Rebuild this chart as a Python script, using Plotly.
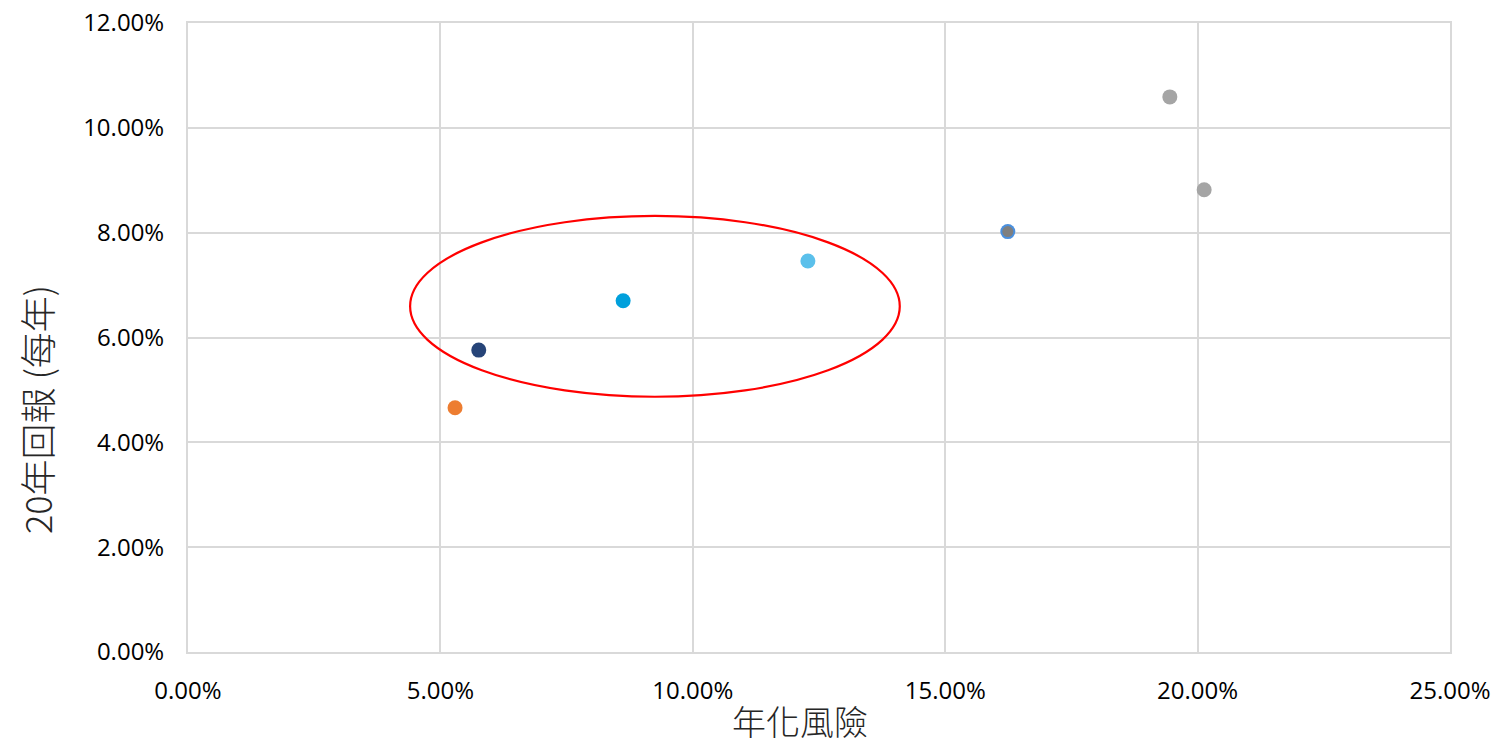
import plotly.graph_objects as go

# Annualised risk (x) and 20-year annual return (y), one point per portfolio
risk = [0.0529, 0.0576, 0.0862, 0.1228, 0.1624, 0.1945, 0.2013]
ret = [0.0466, 0.0576, 0.0670, 0.0746, 0.0802, 0.1059, 0.0882]
colors = ["#ED7D31", "#264478", "#00A0DC", "#5BC0EB", "#4A8FDD", "#A5A5A5", "#A5A5A5"]

# Overlaid inner marker on the fifth point
inner_risk = [0.1624]
inner_ret = [0.0802]
inner_color = ["#7F7F7F"]

x_ticks = [0, 0.05, 0.10, 0.15, 0.20, 0.25]
y_ticks = [0, 0.02, 0.04, 0.06, 0.08, 0.10, 0.12]

x_title = "年化風險"
y_title = "20年回報 (每年)"

# Highlight ellipse bounds (data units)
ellipse_x = [0.0440, 0.1410]
ellipse_y = [0.0487, 0.0832]

grid = "#D9D9D9"
font = "Open Sans, Noto Sans CJK TC, sans-serif"
cjk = "Noto Sans CJK TC, sans-serif"

W, H = 1494, 748
ML, MR, MT, MB = 188, 44, 23, 96

fig = go.Figure()
fig.add_trace(go.Scatter(
    x=risk, y=ret, mode="markers",
    marker=dict(size=15, color=colors, line=dict(width=0)),
    hoverinfo="x+y", showlegend=False,
))
fig.add_trace(go.Scatter(
    x=inner_risk, y=inner_ret, mode="markers",
    marker=dict(size=11, color=inner_color, line=dict(width=0)),
    hoverinfo="skip", showlegend=False,
))

fig.add_shape(
    type="circle", xref="x", yref="y",
    x0=ellipse_x[0], x1=ellipse_x[1], y0=ellipse_y[0], y1=ellipse_y[1],
    line=dict(color="#FF0000", width=2.2),
)

axis_common = dict(
    tickformat=".2%", showgrid=True, gridcolor=grid, gridwidth=2,
    showline=True, linecolor=grid, linewidth=2, mirror=True,
    zeroline=False, ticks="", automargin=False,
    tickfont=dict(family=font, size=24, color="#000000"),
)
fig.update_xaxes(range=[0, 0.25], tickvals=x_ticks, ticklabelstandoff=16, **axis_common)
fig.update_yaxes(range=[0, 0.12], tickvals=y_ticks, ticklabelstandoff=17, **axis_common)

# Axis titles placed in paper pixels relative to the plot area
pw = W - ML - MR
ph = H - MT - MB
fig.add_annotation(
    text=x_title, xref="paper", yref="paper",
    x=(800 - ML) / pw, y=-(747 - (H - MB)) / ph,
    xanchor="center", yanchor="bottom", showarrow=False,
    font=dict(family=cjk, size=34, color="#262626", weight=300),
)
fig.add_annotation(
    text=y_title, xref="paper", yref="paper",
    x=-(ML - 36) / pw, y=((H - MB) - 410) / ph,
    xanchor="center", yanchor="middle", showarrow=False, textangle=-90,
    font=dict(family=cjk, size=36, color="#262626", weight=300),
)

fig.update_layout(
    width=W, height=H,
    margin=dict(l=ML, r=MR, t=MT, b=MB),
    paper_bgcolor="#FFFFFF", plot_bgcolor="#FFFFFF",
)

fig.write_html("out.html")
